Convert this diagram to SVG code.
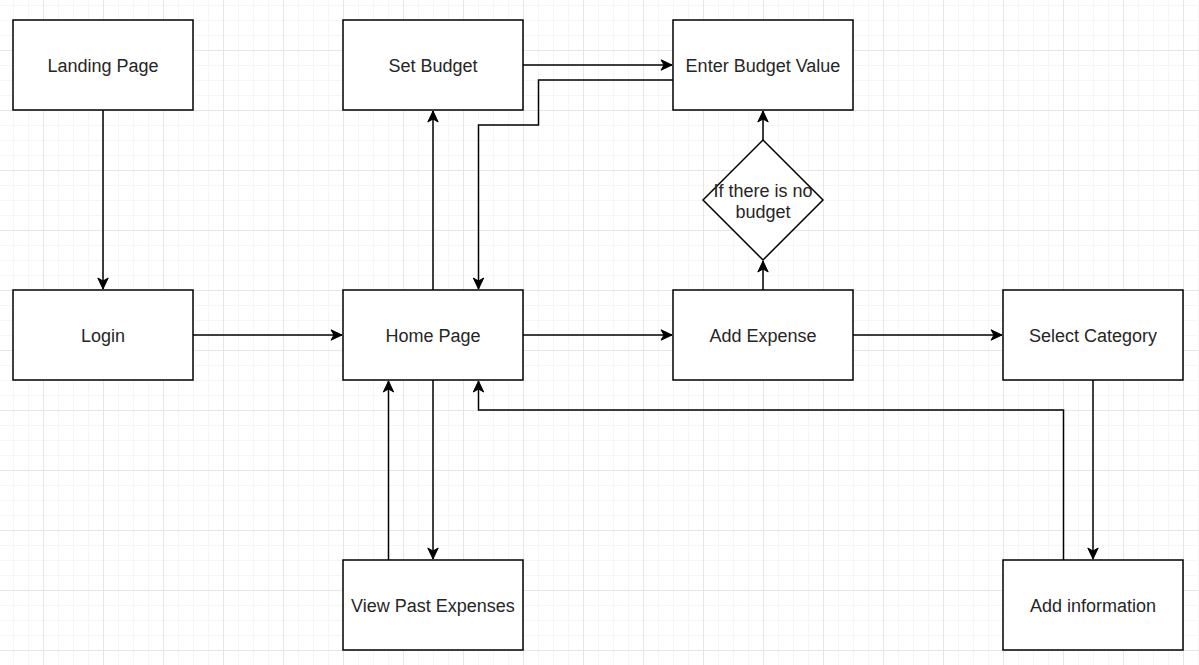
<svg xmlns="http://www.w3.org/2000/svg" width="1199" height="665" viewBox="0 0 1199 665">
<defs>
<pattern id="grid" x="43" y="50" width="60" height="60" patternUnits="userSpaceOnUse">
<path d="M15.5,0V60M30.5,0V60M45.5,0V60M0,15.5H60M0,30.5H60M0,45.5H60" stroke="#f6f6f6" stroke-width="1" fill="none"/>
<path d="M0.5,0V60M0,0.5H60" stroke="#e6e6e6" stroke-width="1" fill="none"/>
</pattern>
<marker id="arr" markerUnits="userSpaceOnUse" markerWidth="14" markerHeight="12" viewBox="-12 -6 14 12" refX="0" refY="0" orient="auto" overflow="visible">
<path d="M0,0 L-11,-5.2 L-8,0 L-11,5.2 Z" fill="#000" stroke="#000" stroke-width="1"/>
</marker>
</defs>
<style>
.box{fill:#fff;stroke:#000;stroke-width:1.5}
.lbl{font-family:"Liberation Sans",Arial,Helvetica,sans-serif;font-size:18px;fill:#262626;text-anchor:middle}
.edge{fill:none;stroke:#000;stroke-width:1.5;marker-end:url(#arr)}
</style>
<rect width="1199" height="665" fill="#fff"/>
<rect width="1199" height="665" fill="url(#grid)"/>
<g id="connectors">
<path class="edge" d="M103,110V289"/>
<path class="edge" d="M193,335H342"/>
<path class="edge" d="M433,290V111"/>
<path class="edge" d="M523,65H672"/>
<path class="edge" d="M673,80H538.5V125H478.5V289"/>
<path class="edge" d="M523,335H672"/>
<path class="edge" d="M763,290V261"/>
<path class="edge" d="M763,140V111"/>
<path class="edge" d="M853,335H1002"/>
<path class="edge" d="M1093,380V559"/>
<path class="edge" d="M1063.5,560V410H478.5V381"/>
<path class="edge" d="M433,380V559"/>
<path class="edge" d="M388.5,560V381"/>
</g>
<g id="landing-page"><rect class="box" x="13" y="20" width="180" height="90"/><text class="lbl" x="103" y="71.5">Landing Page</text></g>
<g id="login"><rect class="box" x="13" y="290" width="180" height="90"/><text class="lbl" x="103" y="341.5">Login</text></g>
<g id="set-budget"><rect class="box" x="343" y="20" width="180" height="90"/><text class="lbl" x="433" y="71.5">Set Budget</text></g>
<g id="enter-budget-value"><rect class="box" x="673" y="20" width="180" height="90"/><text class="lbl" x="763" y="71.5">Enter Budget Value</text></g>
<g id="home-page"><rect class="box" x="343" y="290" width="180" height="90"/><text class="lbl" x="433" y="341.5">Home Page</text></g>
<g id="add-expense"><rect class="box" x="673" y="290" width="180" height="90"/><text class="lbl" x="763" y="341.5">Add Expense</text></g>
<g id="select-category"><rect class="box" x="1003" y="290" width="180" height="90"/><text class="lbl" x="1093" y="341.5">Select Category</text></g>
<g id="view-past-expenses"><rect class="box" x="343" y="560" width="180" height="90"/><text class="lbl" x="433" y="611.5">View Past Expenses</text></g>
<g id="add-information"><rect class="box" x="1003" y="560" width="180" height="90"/><text class="lbl" x="1093" y="611.5">Add information</text></g>
<g id="no-budget-decision"><path class="box" d="M763,140L823,200L763,260L703,200Z"/><text class="lbl" x="763" y="197">If there is no</text><text class="lbl" x="763" y="218">budget</text></g>
</svg>
